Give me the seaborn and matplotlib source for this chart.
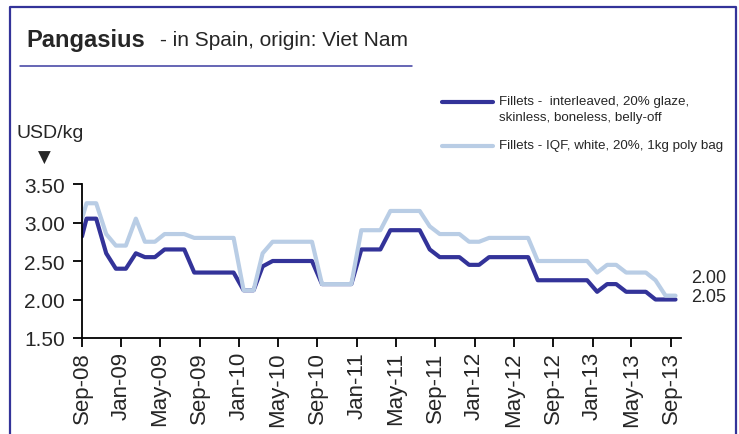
import numpy as np
import pandas as pd
import matplotlib
matplotlib.use("Agg")
import matplotlib.pyplot as plt
import matplotlib.dates as mdates
from matplotlib.lines import Line2D
import seaborn as sns

# ---------------- data ----------------
series_names = [
    "Fillets -  interleaved, 20% glaze,\nskinless, boneless, belly-off",
    "Fillets - IQF, white, 20%, 1kg poly bag",
]
# first observation at start of Sep-08, then monthly (mid-month) prices
start_date = "2008-09-01"
monthly_start = "2008-09-01"
monthly_end = "2013-09-01"

dark_vals = [2.82,
             3.05, 3.05, 2.60, 2.40, 2.40, 2.60, 2.55, 2.55, 2.65, 2.65, 2.65, 2.35,
             2.35, 2.35, 2.35, 2.35, 2.12, 2.12, 2.43, 2.50, 2.50, 2.50, 2.50, 2.50,
             2.20, 2.20, 2.20, 2.20, 2.65, 2.65, 2.65, 2.90, 2.90, 2.90, 2.90, 2.65,
             2.55, 2.55, 2.55, 2.45, 2.45, 2.55, 2.55, 2.55, 2.55, 2.55, 2.25, 2.25,
             2.25, 2.25, 2.25, 2.25, 2.10, 2.20, 2.20, 2.10, 2.10, 2.10, 2.00, 2.00,
             2.00]
light_vals = [3.05,
              3.25, 3.25, 2.85, 2.70, 2.70, 3.05, 2.75, 2.75, 2.85, 2.85, 2.85, 2.80,
              2.80, 2.80, 2.80, 2.80, 2.12, 2.12, 2.60, 2.75, 2.75, 2.75, 2.75, 2.75,
              2.20, 2.20, 2.20, 2.20, 2.90, 2.90, 2.90, 3.15, 3.15, 3.15, 3.15, 2.95,
              2.85, 2.85, 2.85, 2.75, 2.75, 2.80, 2.80, 2.80, 2.80, 2.80, 2.50, 2.50,
              2.50, 2.50, 2.50, 2.50, 2.35, 2.45, 2.45, 2.35, 2.35, 2.35, 2.25, 2.05,
              2.05]
end_labels = ["2.00", "2.05"]
y_ticks = [1.50, 2.00, 2.50, 3.00, 3.50]
unit_label = "USD/kg"
title_bold = "Pangasius"
title_rest = "- in Spain, origin: Viet Nam"

dates = [pd.Timestamp(start_date)] + list(
    pd.date_range(monthly_start, monthly_end, freq="MS") + pd.Timedelta(days=14))

DARK = "#333399"
LIGHT = "#B9CDE5"

# ---------------- style ----------------
sns.set_style("ticks")
plt.rcParams["font.family"] = ["Liberation Sans", "DejaVu Sans"]

W, H = 739, 435
fig = plt.figure(figsize=(W / 100, H / 100), dpi=100)
fx = lambda px: px / W
fy = lambda py: 1 - py / H

ax = fig.add_axes([fx(82), fy(339), (681 - 82) / W, (339 - 185) / H])

df = pd.DataFrame({
    "date": dates * 2,
    "price": dark_vals + light_vals,
    "series": [series_names[0]] * len(dates) + [series_names[1]] * len(dates),
})
sns.lineplot(data=df, x="date", y="price", hue="series", hue_order=series_names,
             palette=[DARK, LIGHT], linewidth=3.0, estimator=None, legend=False, ax=ax)

ax.set_xlim(pd.Timestamp("2008-09-01"), pd.Timestamp("2013-10-02"))
ax.set_ylim(1.5, 3.5)
ax.set_yticks(y_ticks)
ax.set_yticklabels([f"{v:.2f}" for v in y_ticks])
ax.xaxis.set_major_locator(mdates.MonthLocator(bymonth=[1, 5, 9]))
ax.xaxis.set_major_formatter(mdates.DateFormatter("%b-%y"))
ax.set_xlabel("")
ax.set_ylabel("")
for s in ["top", "right"]:
    ax.spines[s].set_visible(False)
for s in ["left", "bottom"]:
    ax.spines[s].set_color("black")
    ax.spines[s].set_linewidth(1.3)
ax.tick_params(axis="both", length=6.5, width=1.3, color="black")
ax.tick_params(axis="y", labelsize=15, pad=6)
ax.tick_params(axis="x", labelsize=16, pad=3, labelrotation=90)

# end-of-line value labels
ax.annotate(end_labels[0], xy=(dates[-1], light_vals[-1]), xytext=(11, 13),
            textcoords="offset points", ha="left", va="center", fontsize=13,
            annotation_clip=False)
ax.annotate(end_labels[1], xy=(dates[-1], dark_vals[-1]), xytext=(11, 2.4),
            textcoords="offset points", ha="left", va="center", fontsize=13,
            annotation_clip=False)

# ---------------- decorations ----------------
# outer frame (left, top, right)
fig.add_artist(Line2D([fx(10), fx(10), fx(736), fx(736)], [0, fy(8), fy(8), 0],
                      color=DARK, lw=1.6, transform=fig.transFigure))
# title
fig.text(fx(26), fy(46.5), title_bold, fontsize=17, fontweight="bold",
         va="baseline", ha="left")
fig.text(fx(160), fy(46.5), title_rest, fontsize=15, va="baseline", ha="left")
fig.add_artist(Line2D([fx(20), fx(412)], [fy(67), fy(67)], color="#3C3CA0", lw=1.1,
                      transform=fig.transFigure))

# unit label and arrow
fig.text(fx(17), fy(133), unit_label, fontsize=14, va="center", ha="left")
fig.text(fx(44), fy(158), "\u25BC", fontsize=12, va="center", ha="center",
         family=["DejaVu Sans"])

# legend (drawn manually)
fig.add_artist(Line2D([fx(442), fx(493)], [fy(102.5), fy(102.5)], color=DARK, lw=3.0,
                      transform=fig.transFigure))
fig.add_artist(Line2D([fx(442), fx(493)], [fy(146.5), fy(146.5)], color=LIGHT, lw=3.0,
                      transform=fig.transFigure))
first, second = series_names[0].split("\n")
fig.text(fx(499), fy(102.5), first, fontsize=9.6, va="center", ha="left")
fig.text(fx(499), fy(118.5), second, fontsize=9.6, va="center", ha="left")
fig.text(fx(499), fy(146.5), series_names[1], fontsize=9.6, va="center", ha="left")

fig.savefig("out.png", dpi=100)
